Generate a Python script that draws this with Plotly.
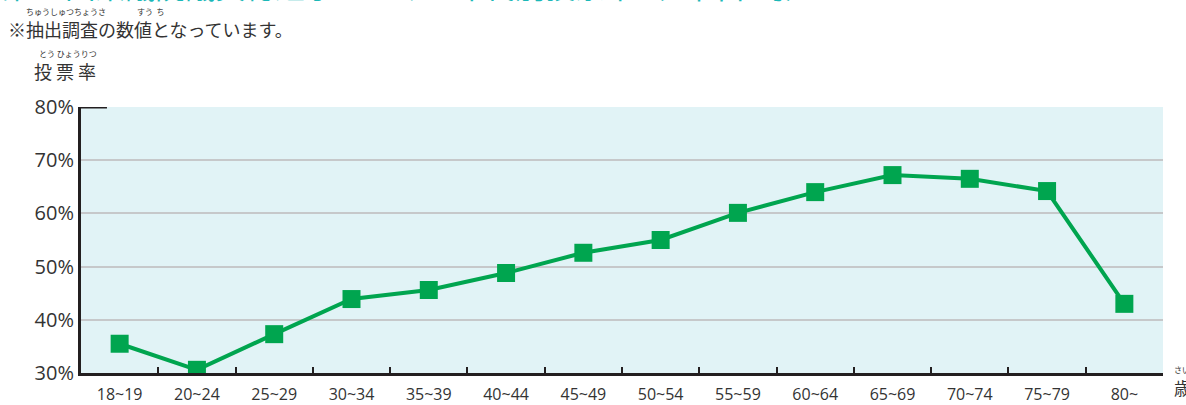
import plotly.graph_objects as go

age_groups = ["18~19", "20~24", "25~29", "30~34", "35~39", "40~44", "45~49",
              "50~54", "55~59", "60~64", "65~69", "70~74", "75~79", "80~"]
turnout = [35.5, 30.6, 37.3, 43.9, 45.6, 48.8, 52.6, 55.0, 60.1, 64.0, 67.2, 66.5, 64.2, 43.0]
y_ticks = [30, 40, 50, 60, 70, 80]
y_tick_labels = ["30%", "40%", "50%", "60%", "70%", "80%"]

JP = "Noto Sans CJK JP"
GREEN = "#00a54f"
DARK = "#231f20"

fig = go.Figure()
fig.add_trace(go.Scatter(
    x=age_groups, y=turnout, mode="lines+markers",
    line=dict(color=GREEN, width=4),
    marker=dict(symbol="square", size=18, color=GREEN),
    hoverinfo="x+y", showlegend=False,
))

fig.update_layout(
    width=1186, height=405,
    margin=dict(l=81, r=23, t=107, b=32),
    paper_bgcolor="white",
    plot_bgcolor="#e1f3f6",
    font=dict(family=JP, color="#333333"),
    xaxis=dict(
        type="category", range=[-0.5, 13.5], automargin=False,
        tickson="boundaries", ticks="inside", ticklen=6, tickwidth=2, tickcolor=DARK,
        showline=True, linecolor=DARK, linewidth=3,
        showgrid=False, zeroline=False, ticklabelstandoff=5,
        tickfont=dict(family="Open Sans", size=16, color="#333333"),
    ),
    yaxis=dict(
        range=[30, 80], tickmode="array", tickvals=y_ticks, ticktext=y_tick_labels,
        automargin=False,
        showline=True, linecolor=DARK, linewidth=3,
        showgrid=True, gridcolor="#c6c8ca", gridwidth=2,
        zeroline=False, ticks="",
        tickfont=dict(family="Open Sans", size=20, color="#333333"),
    ),
)

# short cap at the top of the y axis
fig.add_shape(type="line", xref="paper", yref="y", x0=0, x1=0.024, y0=80, y1=80,
              line=dict(color=DARK, width=3))

ann = []
# partially visible heading at the very top
ann.append(dict(text="第49回衆議院議員総選挙における年代別投票率（全国平均）",
                xref="paper", yref="paper", x=-0.075, y=1.369, xanchor="left", yanchor="bottom",
                showarrow=False, font=dict(family=JP, size=30, color="#1cb8b8")))
# note
ann.append(dict(text="※抽出調査の数値となっています。", xref="paper", yref="paper",
                x=-0.069, y=1.235, xanchor="left", yanchor="bottom", showarrow=False,
                font=dict(family=JP, size=18, color="#333333")))
ann.append(dict(text="ちゅうしゅつちょうさ", xref="paper", yref="paper",
                x=-0.053, y=1.332, xanchor="left", yanchor="bottom", showarrow=False,
                font=dict(family=JP, size=8, color="#333333")))
ann.append(dict(text="すう  ち", xref="paper", yref="paper",
                x=0.05, y=1.332, xanchor="left", yanchor="bottom", showarrow=False,
                font=dict(family=JP, size=8, color="#333333")))
# y axis title
ann.append(dict(text="投 票 率", xref="paper", yref="paper",
                x=-0.045, y=1.08, xanchor="left", yanchor="bottom", showarrow=False,
                font=dict(family=JP, size=18, color="#333333")))
ann.append(dict(text="とう ひょうりつ", xref="paper", yref="paper",
                x=-0.041, y=1.172, xanchor="left", yanchor="bottom", showarrow=False,
                font=dict(family=JP, size=8, color="#333333")))
# unit at right
ann.append(dict(text="歳", xref="paper", yref="paper",
                x=1.0085, y=0.0, xanchor="left", yanchor="top", showarrow=False,
                font=dict(family=JP, size=17, color="#333333")))
ann.append(dict(text="さい", xref="paper", yref="paper",
                x=1.0085, y=0.04, xanchor="left", yanchor="top", showarrow=False,
                font=dict(family=JP, size=8, color="#333333")))
fig.update_layout(annotations=ann)

fig.write_html("out.html", config={"displayModeBar": False},
               post_script="document.body.style.margin='0';document.body.style.overflow='hidden';")
